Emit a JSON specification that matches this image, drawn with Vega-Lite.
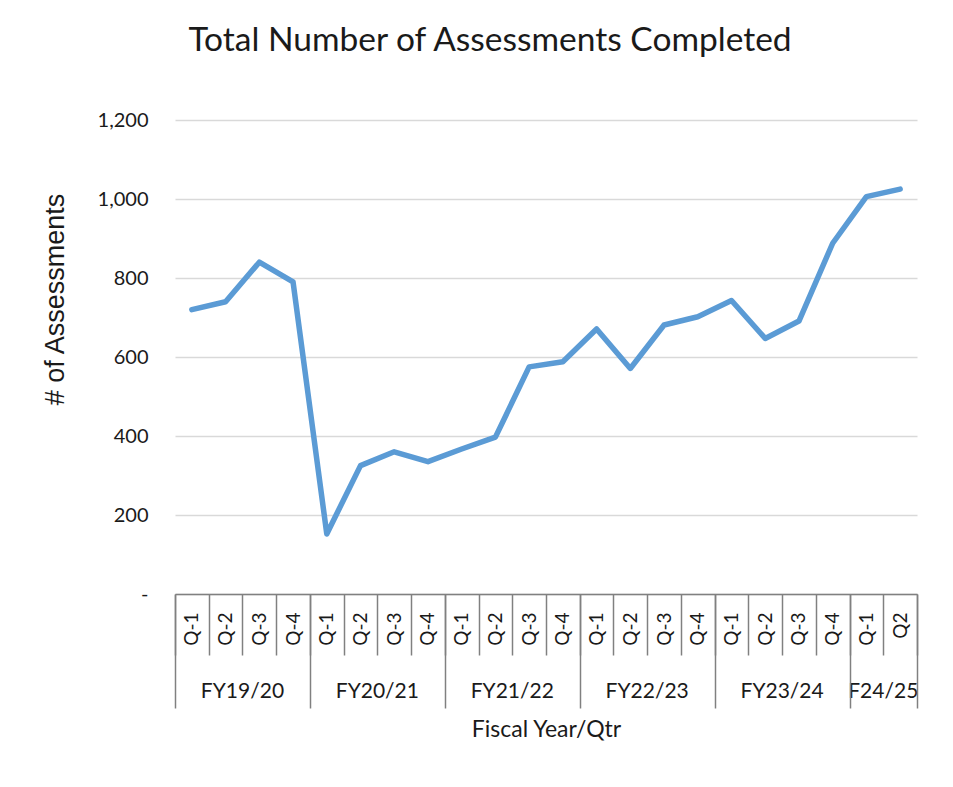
{
  "$schema": "https://vega.github.io/schema/vega-lite/v6.json",
  "autosize": {"type": "none"},
  "width": 742,
  "height": 474,
  "padding": {"left": 175, "top": 120, "right": 36, "bottom": 193},
  "background": "white",
  "title": {
    "text": "Total Number of Assessments Completed",
    "font": "Lato",
    "fontSize": 33.5,
    "fontWeight": "normal",
    "color": "#1a1a1a",
    "anchor": "middle",
    "frame": "group",
    "dx": -56,
    "offset": 52
  },
  "config": {
    "view": {"stroke": null},
    "axis": {"labelColor": "#1a1a1a", "titleColor": "#1a1a1a"}
  },
  "data": {
    "values": [
      {"period": "FY19/20 Q-1", "assessments": 720},
      {"period": "FY19/20 Q-2", "assessments": 740},
      {"period": "FY19/20 Q-3", "assessments": 840},
      {"period": "FY19/20 Q-4", "assessments": 790},
      {"period": "FY20/21 Q-1", "assessments": 152},
      {"period": "FY20/21 Q-2", "assessments": 325},
      {"period": "FY20/21 Q-3", "assessments": 360},
      {"period": "FY20/21 Q-4", "assessments": 335},
      {"period": "FY21/22 Q-1", "assessments": 367},
      {"period": "FY21/22 Q-2", "assessments": 397},
      {"period": "FY21/22 Q-3", "assessments": 575},
      {"period": "FY21/22 Q-4", "assessments": 588},
      {"period": "FY22/23 Q-1", "assessments": 671},
      {"period": "FY22/23 Q-2", "assessments": 571},
      {"period": "FY22/23 Q-3", "assessments": 681},
      {"period": "FY22/23 Q-4", "assessments": 702},
      {"period": "FY23/24 Q-1", "assessments": 743},
      {"period": "FY23/24 Q-2", "assessments": 647},
      {"period": "FY23/24 Q-3", "assessments": 691},
      {"period": "FY23/24 Q-4", "assessments": 888},
      {"period": "F24/25 Q-1", "assessments": 1006},
      {"period": "F24/25 Q2", "assessments": 1025}
    ]
  },
  "resolve": {"axis": {"x": "independent"}},
  "layer": [
    {
      "mark": {"type": "line", "color": "#5B9BD5", "strokeWidth": 5.5, "strokeCap": "round", "strokeJoin": "round"},
      "encoding": {
        "x": {
          "field": "period", "type": "ordinal", "sort": null,
          "scale": {"type": "band", "paddingInner": 0, "paddingOuter": 0},
          "axis": {
            "orient": "bottom",
            "title": "Fiscal Year/Qtr",
            "titleFont": "Lato",
            "titleFontSize": 23,
            "titleFontWeight": "normal",
            "titleY": 124,
            "titleBaseline": "top",
            "labelExpr": "split(datum.label, ' ')[1]",
            "labelAngle": -90,
            "labelAlign": "right",
            "labelBaseline": "middle",
            "labelFont": "Lato",
            "labelFontSize": 19,
            "labelPadding": -43,
            "tickBand": "extent",
            "tickSize": 61,
            "tickColor": "#808080",
            "tickWidth": 1.5,
            "domainColor": "#808080",
            "domainWidth": 1.5,
            "grid": false
          }
        },
        "y": {
          "field": "assessments", "type": "quantitative",
          "scale": {"domain": [0, 1200]},
          "axis": {
            "title": "# of Assessments",
            "titleFont": "Liberation Sans",
            "titleFontSize": 27,
            "titleFontWeight": "normal",
            "titleX": -120,
            "titleY": 179,
            "titleAngle": -90,
            "titleAlign": "center",
            "titleBaseline": "middle",
            "values": [0, 200, 400, 600, 800, 1000, 1200],
            "labelExpr": "datum.value === 0 ? '-\u00a0\u00a0' : format(datum.value, ',')",
            "labelFont": "Lato",
            "labelFontSize": 20,
            "labelPadding": 27,
            "ticks": false,
            "tickSize": 0,
            "domain": false,
            "grid": true,
            "gridColor": "#d9d9d9",
            "gridWidth": 1.5
          }
        }
      }
    },
    {
      "mark": {"type": "point", "opacity": 0},
      "encoding": {
        "x": {
          "field": "period", "type": "ordinal", "sort": null,
          "axis": {
            "orient": "bottom",
            "title": null,
            "values": ["FY19/20 Q-3", "FY20/21 Q-3", "FY21/22 Q-3", "FY22/23 Q-3", "FY23/24 Q-3", "F24/25 Q2"],
            "labelExpr": "split(datum.label, ' ')[0]",
            "labelAngle": 0,
            "labelAlign": "center",
            "labelBaseline": "top",
            "labelFont": "Lato",
            "labelFontSize": 21,
            "labelOffset": -16.86,
            "labelPadding": 86,
            "ticks": false,
            "tickSize": 0,
            "domain": false,
            "grid": false
          }
        }
      }
    },
    {
      "mark": {"type": "point", "opacity": 0},
      "encoding": {
        "x": {
          "field": "period", "type": "ordinal", "sort": null,
          "axis": {
            "orient": "bottom",
            "title": null,
            "labels": false,
            "domain": false,
            "grid": false,
            "tickBand": "extent",
            "tickColor": "#808080",
            "tickWidth": 1.5,
            "tickSize": {
              "condition": {
                "test": "datum.extra || indexof(['FY19/20 Q-4','FY20/21 Q-4','FY21/22 Q-4','FY22/23 Q-4','FY23/24 Q-4','F24/25 Q2'], datum.value) >= 0",
                "value": 114
              },
              "value": 0
            }
          }
        }
      }
    }
  ]
}
